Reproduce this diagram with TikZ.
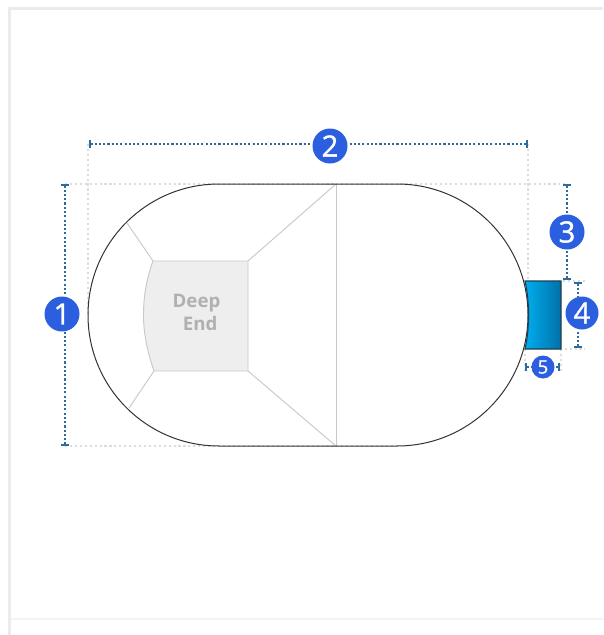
\documentclass[tikz,border=0pt]{standalone}
\usepackage{fontspec}
\setmainfont{Open Sans}
\newfontfamily\badgefont[FakeBold=1.2]{Open Sans}
\usepackage{tikz}
\usetikzlibrary{arrows.meta}
\definecolor{badgeblue}{HTML}{2B5FE0}
\definecolor{dimblue}{HTML}{2E6A9A}
\definecolor{guidegray}{HTML}{DCDCDC}
\definecolor{floorgray}{HTML}{C9C9C9}
\definecolor{poolgray}{HTML}{EEEEEE}
\definecolor{framegray}{HTML}{EBEBEB}
\definecolor{labelgray}{HTML}{B0B0B0}
\definecolor{spaleft}{HTML}{00AEEF}
\definecolor{sparight}{HTML}{0070A8}
\definecolor{spaedge}{HTML}{1F3F55}
\tikzset{
  badge/.style={circle,fill=badgeblue,text=white,inner sep=0pt,minimum size=35*.75pt,font=\badgefont\fontsize{22}{22}\selectfont},
  badgesmall/.style={badge,minimum size=23*.75pt,font=\badgefont\fontsize{14}{14}\selectfont},
  dimline/.style={draw=dimblue,line width=1.4pt,dash pattern=on 1.6pt off 1.6pt},
  dimtick/.style={dimline,{Bar[width=6pt,line width=1.4pt,sep=0pt]}-},
  guide/.style={draw=guidegray,line width=1.4pt,dash pattern=on 1.6pt off 2.1pt},
  floorline/.style={draw=floorgray,line width=.7pt},
}
\begin{document}
\begin{tikzpicture}[x=.75pt,y=-.75pt]
  \useasboundingbox (0,0) rectangle (603,635);
  % Draw frame
  \fill[white] (0,0) rectangle (603,635);
  \draw[framegray,line width=2.2pt] (9.5,635) -- (9.5,8.5) -- (603,8.5);
  \draw[framegray!60,line width=.8pt] (11,619) -- (603,619);
  % Draw guides
  \draw[guide] (65,184) -- (568,184);
  \draw[guide] (65,446) -- (400,446);
  \draw[guide] (88,144) -- (88,315);
  \draw[guide] (528,144) -- (528,281);
  \draw[guide] (553,281) -- (585,281);
  \draw[guide] (540,349) -- (585,349);
  \draw[guide] (525,349) -- (525,372);
  \draw[guide] (561,349) -- (561,372);
  % Draw deep end
  \draw[floorline,fill=poolgray] (153,261) -- (248,261) -- (248,371) -- (154,371)
    .. controls (146,348) and (143.5,330) .. (143.5,315)
    .. controls (143.5,298) and (146,280) .. (153,261) -- cycle;
  \draw[floorline] (153,261) -- (127,223);
  \draw[floorline] (154,371) -- (129,408);
  \draw[floorline] (248,261) -- (336,184);
  \draw[floorline] (248,371) -- (336,446);
  \draw[floorline] (336,184) -- (336,446);
  \node[text=labelgray,font=\fontsize{14}{17.3}\selectfont\bfseries,align=center] (deepend) at (196.5,312.5) {Deep\\\hspace*{.4em}End};
  % Draw pool
  \draw[black!80,line width=.75pt] (219,184) -- (397,184) arc (-90:90:131) -- (219,446) arc (90:270:131) -- cycle;
  % Draw spa
  \path[draw=spaedge,line width=.85pt,left color=spaleft,right color=sparight]
    (525,281) -- (561,281) -- (561,349) -- (525,349)
    .. controls (527.5,338) and (528.5,326) .. (528.5,315)
    .. controls (528.5,304) and (527.5,292) .. (525,281) -- cycle;
  % Draw badges
  \node[badge] (one) at (62,314) {1};
  \node[badge] (two) at (330,146) {2};
  \node[badge] (three) at (567,232) {3};
  \node[badge,minimum size=33*.75pt] (four) at (582,313) {4};
  \node[badgesmall] (five) at (543,367) {5};
  % Draw dimensions
  \coordinate (oneTop) at (65,184);
  \coordinate (oneBot) at (65,446);
  \coordinate (twoLeft) at (89,144);
  \coordinate (twoRight) at (528,144);
  \coordinate (threeTop) at (567,184);
  \coordinate (threeBot) at (567,280);
  \coordinate (fourTop) at (578,282);
  \coordinate (fourBot) at (578,348);
  \coordinate (fiveLeft) at (525,367);
  \coordinate (fiveRight) at (560,367);
  \draw[dimtick] (oneTop) -- (oneTop |- one.north);
  \draw[dimtick] (oneBot) -- (oneBot |- one.south);
  \draw[dimtick] (twoLeft) -- (twoLeft -| two.west);
  \draw[dimtick] (twoRight) -- (twoRight -| two.east);
  \draw[dimtick] (threeTop) -- (three);
  \draw[dimtick] (threeBot) -- (three);
  \draw[dimtick] (fourTop) -- (fourTop |- four.north);
  \draw[dimtick] (fourBot) -- (fourBot |- four.south);
  \draw[dimtick] (fiveLeft) -- (five);
  \draw[dimtick] (fiveRight) -- (five);
\end{tikzpicture}
\end{document}
